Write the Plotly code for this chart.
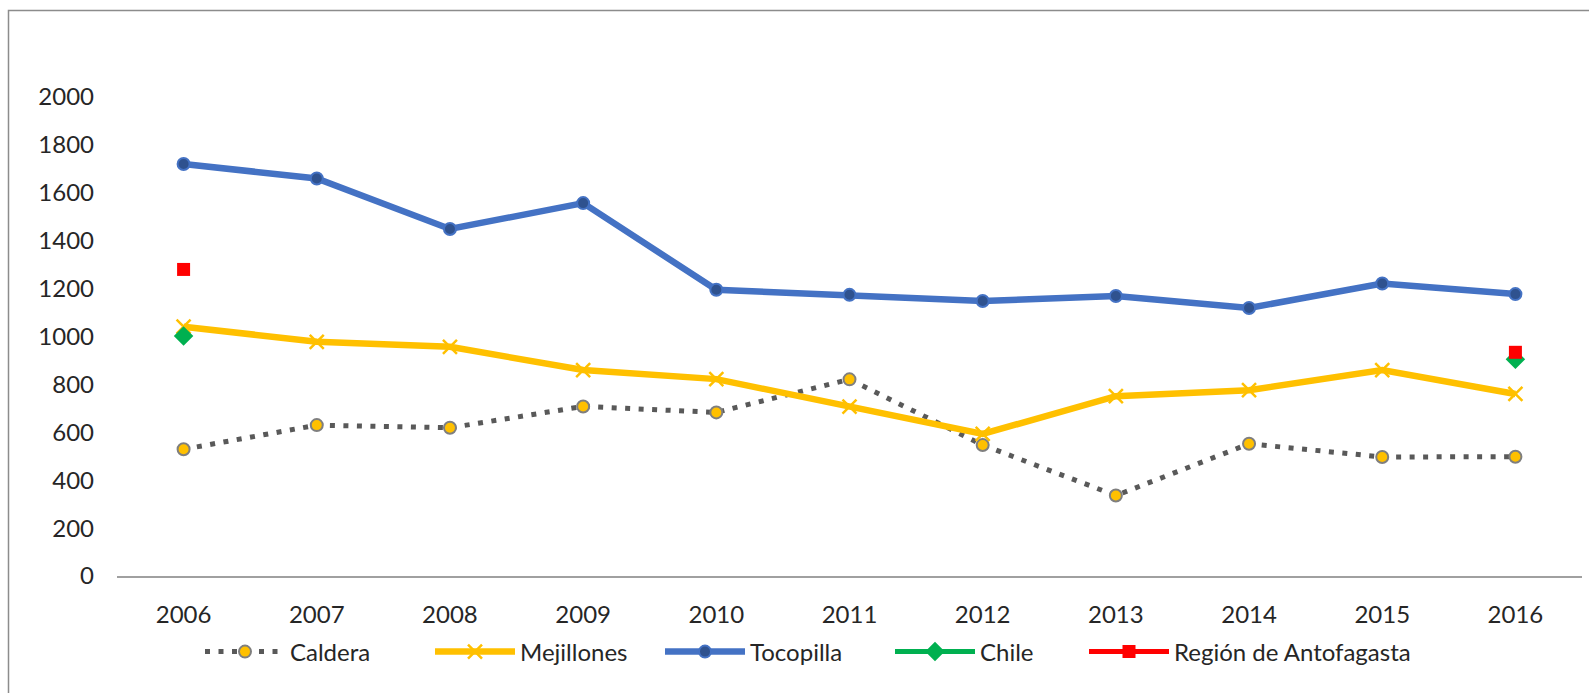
import plotly.graph_objects as go

# Annual series, 2006-2016
years = ["2006", "2007", "2008", "2009", "2010", "2011", "2012", "2013", "2014", "2015", "2016"]
caldera = [529, 630, 619, 708, 683, 821, 547, 336, 552, 497, 498]
mejillones = [1041, 978, 957, 860, 822, 707, 593, 751, 776, 860, 760]
tocopilla = [1720, 1660, 1449, 1557, 1195, 1174, 1148, 1169, 1119, 1221, 1177]
chile = [1002, None, None, None, None, None, None, None, None, None, 905]
region_antofagasta = [1280, None, None, None, None, None, None, None, None, None, 934]
y_ticks = [0, 200, 400, 600, 800, 1000, 1200, 1400, 1600, 1800, 2000]

W, H = 1589, 693
M_L, M_R, M_T, M_B = 117, 7, 97, 117
FONT = "Lato, Calibri, Carlito, sans-serif"

fig = go.Figure()

fig.add_trace(go.Scatter(
    x=years, y=caldera, name="Caldera", mode="lines+markers",
    line=dict(color="#595959", width=5, dash="5px,8.5px"),
    marker=dict(symbol="circle", size=12, color="#FFC000",
                line=dict(color="#7F7F7F", width=2)),
))
fig.add_trace(go.Scatter(
    x=years, y=mejillones, name="Mejillones", mode="lines+markers",
    line=dict(color="#FFC000", width=6.5),
    marker=dict(symbol="x-thin", size=14, color="#FFC000",
                line=dict(color="#FFC000", width=2.5)),
))
fig.add_trace(go.Scatter(
    x=years, y=tocopilla, name="Tocopilla", mode="lines+markers",
    line=dict(color="#4472C4", width=6.5),
    marker=dict(symbol="circle", size=12, color="#2F528F",
                line=dict(color="#4472C4", width=2)),
))
fig.add_trace(go.Scatter(
    x=years, y=chile, name="Chile", mode="lines+markers",
    line=dict(color="#00B050", width=5),
    marker=dict(symbol="diamond", size=15, color="#00B050"),
))
fig.add_trace(go.Scatter(
    x=years, y=region_antofagasta, name="Región de Antofagasta", mode="lines+markers",
    line=dict(color="#FF0000", width=5),
    marker=dict(symbol="square", size=13, color="#FF0000"),
    legend="legend2",
))

# outer chart frame (only top and left edges fall inside the page)
pw = W - M_L - M_R
ph = H - M_T - M_B
fx0 = (8.5 - M_L) / pw
fy1 = (H - M_B - 10.5) / ph
fig.add_shape(type="rect", xref="paper", yref="paper",
              x0=fx0, x1=1.2, y0=-0.5, y1=fy1,
              line=dict(color="#8C8C8C", width=1.5), layer="below")

legend_common = dict(
    orientation="h", xref="container", yref="container",
    xanchor="left", y=1 - 652 / H, yanchor="middle",
    itemwidth=80,
    font=dict(family=FONT, size=24, color="#262626"),
    bgcolor="rgba(0,0,0,0)",
)

fig.update_layout(
    width=W, height=H,
    margin=dict(l=M_L, r=M_R, t=M_T, b=M_B, autoexpand=False),
    paper_bgcolor="white", plot_bgcolor="white",
    font=dict(family=FONT, size=24, color="#262626"),
    showlegend=True,
    legend=dict(legend_common, x=200 / W,
                entrywidth=135, entrywidthmode="pixels"),
    legend2=dict(legend_common, x=1084 / W),
    xaxis=dict(
        type="category", range=[-0.5, 10.5],
        showline=True, linecolor="#A0A0A0", linewidth=2,
        showgrid=False, zeroline=False, ticks="",
        ticklabelstandoff=16,
        tickfont=dict(family=FONT, size=24, color="#262626"),
    ),
    yaxis=dict(
        range=[0, 2000], tickvals=y_ticks,
        showline=False, showgrid=False, zeroline=False, ticks="",
        ticklabelstandoff=22,
        tickfont=dict(family=FONT, size=24, color="#262626"),
    ),
)

fig.write_html("out.html")
